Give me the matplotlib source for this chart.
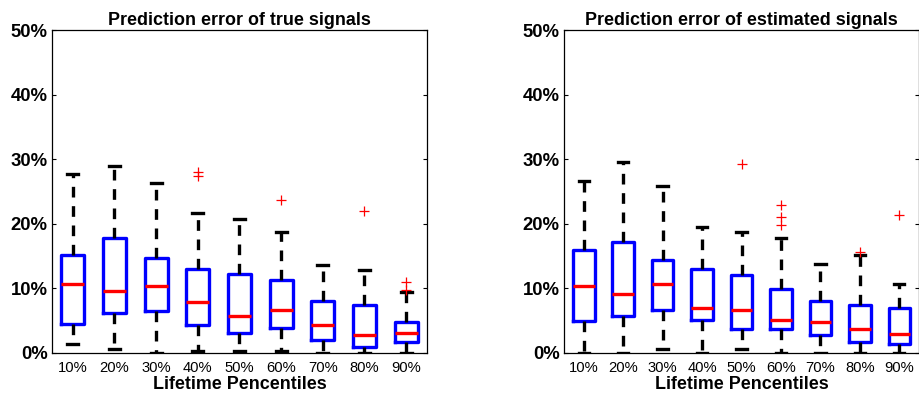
import matplotlib as mpl
mpl.use('Agg')
import matplotlib.pyplot as plt


groups = ['10%', '20%', '30%', '40%', '50%', '60%', '70%', '80%', '90%']

# true signals: whisker low, q1, median, q3, whisker high, outliers (percent)
true_whislo = [1.3, 0.6, 0.0, 0.3, 0.3, 0.3, 0.0, 0.0, 0.0]
true_q1 = [4.5, 6.1, 6.4, 4.3, 3.1, 3.8, 1.9, 0.8, 1.6]
true_med = [10.6, 9.6, 10.3, 7.8, 5.7, 6.6, 4.3, 2.7, 3.1]
true_q3 = [15.2, 17.75, 14.7, 12.9, 12.1, 11.3, 8.0, 7.3, 4.8]
true_whishi = [27.7, 29.0, 26.3, 21.7, 20.7, 18.7, 13.6, 12.8, 9.4]
true_fliers = [[], [], [], [28.0, 27.3], [], [23.7], [], [21.9], [10.9, 9.7]]

# estimated signals
est_whislo = [0.0, 0.0, 0.6, 0.0, 0.6, 0.0, 0.0, 0.0, 0.0]
est_q1 = [4.9, 5.7, 6.6, 5.0, 3.6, 3.6, 2.7, 1.7, 1.3]
est_med = [10.3, 9.1, 10.6, 6.9, 6.6, 5.0, 4.7, 3.6, 2.9]
est_q3 = [15.9, 17.1, 14.3, 12.9, 12.0, 9.9, 8.0, 7.3, 6.9]
est_whishi = [26.6, 29.5, 25.9, 19.4, 18.7, 17.75, 13.8, 15.2, 10.7]
est_fliers = [[], [], [], [], [29.3], [22.9, 21.0, 19.8], [], [15.6], [21.4]]


def make_stats(lo, q1, med, q3, hi, fliers):
    stats = []
    for i in range(len(groups)):
        stats.append({'whislo': lo[i], 'q1': q1[i], 'med': med[i],
                      'q3': q3[i], 'whishi': hi[i], 'fliers': fliers[i],
                      'label': groups[i]})
    return stats


def draw(ax, stats, title):
    ax.bxp(stats, widths=0.55, capwidths=0.26,
           boxprops=dict(color=(0, 0, 1), lw=2.4),
           medianprops=dict(color=(1, 0, 0), lw=2.4),
           whiskerprops=dict(color='k', lw=2.4, linestyle=(0, (3.2, 2.6))),
           capprops=dict(color='k', lw=2.4),
           flierprops=dict(marker='+', markeredgecolor='r', markersize=7,
                           markeredgewidth=0.9, linestyle='none'))
    ax.set_xlim(0.5, 9.5)
    ax.set_ylim(0, 50)
    ax.set_yticks([0, 10, 20, 30, 40, 50])
    ax.set_yticklabels(['%d%%' % v for v in range(0, 51, 10)],
                       fontsize=13.3, fontweight='bold')
    ax.tick_params(axis='y', direction='in', length=3, width=0.8,
                   right=True, pad=3)
    ax.tick_params(axis='x', length=0, labelsize=10.6, pad=6)
    for s in ax.spines.values():
        s.set_linewidth(0.9)
    ax.set_title(title, fontsize=12.9, fontweight='bold', pad=4)
    ax.set_xlabel('Lifetime Pencentiles', fontsize=12.9, fontweight='bold',
                  labelpad=1)


def main():
    mpl.rcParams['font.family'] = 'Liberation Sans'
    fig = plt.figure(figsize=(9.2, 3.99), dpi=100)
    ax1 = fig.add_axes([0.0565, 0.1165, 0.4076, 0.808])
    ax2 = fig.add_axes([0.613, 0.1165, 0.386, 0.808])
    draw(ax1, make_stats(true_whislo, true_q1, true_med, true_q3,
                         true_whishi, true_fliers),
         'Prediction error of true signals')
    draw(ax2, make_stats(est_whislo, est_q1, est_med, est_q3,
                         est_whishi, est_fliers),
         'Prediction error of estimated signals')
    fig.savefig('out.png', dpi=100)


if __name__ == '__main__':
    main()
